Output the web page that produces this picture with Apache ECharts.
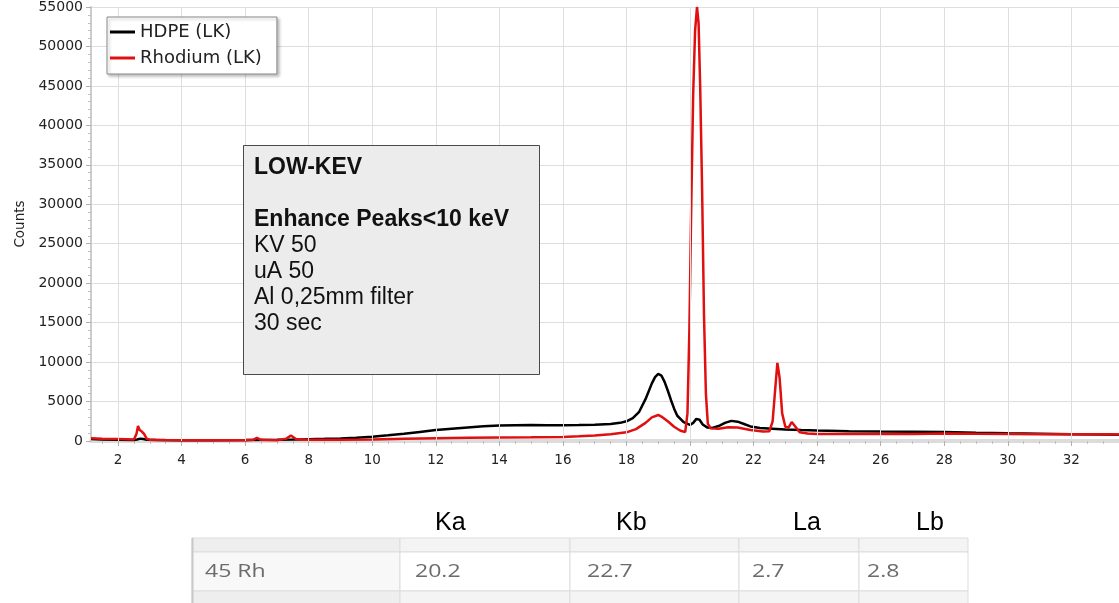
<!DOCTYPE html>
<html>
<head>
<meta charset="utf-8">
<title>LOW-KEV spectrum</title>
<style>
  html, body { margin: 0; padding: 0; background: #fff; }
  #chart { width: 1119px; height: 603px; }
</style>
<script src="https://cdn.jsdelivr.net/npm/echarts@6/dist/echarts.min.js"></script>
</head>
<body>
<div id="chart"></div>
<script>
// HDPE (LK) - energy (keV) and counts
var hdpeKev = [1.15, 1.5, 2.0, 2.5, 2.6, 2.7, 2.8, 2.9, 3.2, 4, 5, 6, 7, 7.5, 8, 8.5, 9, 9.5, 10, 10.5,
    11, 11.5, 12, 12.5, 13, 13.5, 14, 14.5, 15, 15.5, 16, 16.5, 17, 17.5, 17.8, 18.0, 18.2, 18.4, 18.6, 18.8,
    18.9, 19.0, 19.1, 19.2, 19.3, 19.4, 19.5, 19.6, 19.8, 20.0, 20.1, 20.2, 20.3, 20.4, 20.55, 20.7, 20.9, 21.1,
    21.3, 21.5, 21.7, 21.9, 22.2, 22.6, 23, 23.5, 24, 25, 26, 27, 28, 29, 30, 31, 32, 33, 33.5];
var hdpeCounts = [250, 200, 150, 120, 200, 300, 250, 150, 120, 100, 100, 120, 150, 180, 230, 270, 320, 420, 550, 720,
    920, 1150, 1380, 1560, 1720, 1860, 1960, 2000, 2020, 2000, 2000, 2020, 2060, 2150, 2300, 2500, 2900, 3700, 5300, 7300,
    8100, 8500, 8300, 7500, 6400, 5200, 4100, 3200, 2400, 2050, 2300, 2800, 2700, 2100, 1700, 1650, 1900, 2300,
    2550, 2450, 2150, 1850, 1650, 1550, 1450, 1380, 1320, 1250, 1200, 1170, 1130, 1050, 980, 930, 870, 830, 800];

// Rhodium (LK)
var rhKev = [1.15, 1.5, 2.0, 2.5, 2.58, 2.63, 2.68, 2.75, 2.82, 2.9, 3.0, 3.5, 4, 5, 6, 6.25, 6.37, 6.5, 7, 7.3,
    7.44, 7.6, 8, 9, 10, 11, 12, 13, 14, 15, 16, 16.5, 17, 17.5, 18.0, 18.3, 18.6, 18.8, 19.0, 19.1,
    19.3, 19.5, 19.7, 19.85, 19.92, 19.98, 20.04, 20.1, 20.16, 20.22, 20.27, 20.32, 20.38, 20.44, 20.5, 20.56, 20.65, 20.9,
    21.2, 21.5, 21.9, 22.3, 22.5, 22.6, 22.68, 22.75, 22.82, 22.9, 23.0, 23.1, 23.2, 23.3, 23.45, 23.7, 24, 25,
    26, 27, 28, 29, 30, 31, 32, 33, 33.5];
var rhCounts = [350, 300, 250, 180, 900, 1900, 1400, 1200, 900, 300, 150, 120, 100, 100, 100, 150, 400, 150, 100, 300,
    700, 250, 150, 170, 200, 280, 350, 400, 450, 480, 520, 600, 700, 850, 1100, 1500, 2300, 3000, 3300, 3100,
    2500, 1800, 1300, 1150, 3500, 14000, 30000, 44000, 52000, 55000, 53000, 45000, 32000, 16000, 6000, 2200, 1600, 1550,
    1750, 1700, 1400, 1200, 1250, 2500, 6500, 9900, 8000, 3500, 1800, 1700, 2400, 1900, 1100, 950, 900, 900,
    900, 900, 950, 920, 900, 870, 850, 850, 830];

var seriesNames = ['HDPE (LK)', 'Rhodium (LK)'];

// keV tick labels of the x axis (axis starts at 1.15, so ticks are given by hand)
var xTicks = [2, 4, 6, 8, 10, 12, 14, 16, 18, 20, 22, 24, 26, 28, 30, 32];

// text of the note box
var infoLines = ['LOW-KEV', '', 'Enhance Peaks<10 keV', 'KV 50', 'uA 50', 'Al 0,25mm filter', '30 sec'];
var infoBold = [true, false, true, false, false, false, false];

// piece of the emission line table under the chart
var tableHead = ['Ka', 'Kb', 'La', 'Lb'];
var tableRow = ['45 Rh', '20.2', '22.7', '2.7', '2.8'];

function pairs(xs, ys) {
    var out = [];
    for (var i = 0; i < xs.length; i++) out.push([xs[i], ys[i]]);
    return out;
}

// minor ticks every 0.5 keV between the labelled ones
var xMinor = [];
for (var t = 1.5; t < 33.5; t += 0.5) {
    if (t % 2 != 0) xMinor.push(t);
}

var chart = echarts.init(document.getElementById('chart'));

// graphic: note box + table
var graphics = [];
graphics.push({
    type: 'rect', z: 100,
    shape: { x: 243.5, y: 145.5, width: 296, height: 229 },
    style: { fill: '#ececec', stroke: '#4a4a4a', lineWidth: 1 }
});
for (var i = 0; i < infoLines.length; i++) {
    if (!infoLines[i]) continue;
    graphics.push({
        type: 'text', z: 101, x: 254, y: 168 + i * 26,
        style: {
            text: infoLines[i], fill: '#111', verticalAlign: 'middle',
            font: (infoBold[i] ? 'bold ' : '') + '23px "Liberation Sans", Arial, sans-serif'
        }
    });
}

var colEdges = [192, 400, 570, 739, 859, 968];
var headX = [435, 616, 793, 916];
var cellX = [205, 415, 587, 752, 867];
for (var c = 0; c < colEdges.length - 1; c++) {
    var w = colEdges[c + 1] - colEdges[c];
    // top band (previous row, cut)
    graphics.push({ type: 'rect', shape: { x: colEdges[c], y: 538, width: w, height: 14 },
        style: { fill: c == 0 ? '#eeeeee' : '#f4f4f4', stroke: '#dddddd', lineWidth: 1 } });
    // 45 Rh row
    graphics.push({ type: 'rect', shape: { x: colEdges[c], y: 552, width: w, height: 39 },
        style: { fill: c == 0 ? '#f8f8f8' : '#ffffff', stroke: '#dddddd', lineWidth: 1 } });
    // next row, cut
    graphics.push({ type: 'rect', shape: { x: colEdges[c], y: 591, width: w, height: 14 },
        style: { fill: c == 0 ? '#eeeeee' : '#f4f4f4', stroke: '#dddddd', lineWidth: 1 } });
    graphics.push({ type: 'text', x: cellX[c], y: 572, scaleX: 1.28,
        style: { text: tableRow[c], fill: '#6c6c6c', verticalAlign: 'middle',
            font: '18px "Open Sans", "Noto Sans", sans-serif' } });
}
graphics.push({ type: 'line', shape: { x1: 192.5, y1: 538, x2: 192.5, y2: 603 },
    style: { stroke: '#c8c8c8', lineWidth: 2 } });
for (var h = 0; h < tableHead.length; h++) {
    graphics.push({ type: 'text', x: headX[h], y: 523,
        style: { text: tableHead[h], fill: '#000', verticalAlign: 'middle',
            font: '25px "Liberation Sans", Arial, sans-serif' } });
}

var option = {
    backgroundColor: '#fff',
    animation: false,
    grid: { left: 91, right: 0, top: 5, bottom: 162 },
    legend: {
        data: seriesNames,
        z: 50,
        orient: 'vertical',
        left: 107, top: 17,
        padding: [6, 15, 7, 3],
        itemGap: 8,
        itemWidth: 25, itemHeight: 3,
        icon: 'rect',
        backgroundColor: '#fff',
        borderColor: '#8a8a8a', borderWidth: 1,
        shadowColor: 'rgba(0,0,0,0.25)', shadowBlur: 3, shadowOffsetX: 2, shadowOffsetY: 2,
        textStyle: { fontFamily: 'DejaVu Sans', fontSize: 18, color: '#222' }
    },
    xAxis: [
        {
            type: 'value', position: 'bottom',
            min: 1.15, max: 33.5,
            axisLine: { show: true, onZero: false, lineStyle: { color: '#dcdcdc', width: 4 } },
            axisTick: { show: true, length: 5, customValues: xTicks, lineStyle: { color: '#b0b0b0' } },
            splitLine: { show: false },
            axisLabel: {
                margin: 12, fontFamily: 'DejaVu Sans', fontSize: 13.5, color: '#222',
                customValues: xTicks
            }
        },
        {
            // only carries the short minor ticks
            type: 'value', position: 'bottom',
            min: 1.15, max: 33.5,
            axisLine: { show: false, onZero: false },
            axisTick: { show: true, length: 3, customValues: xMinor, lineStyle: { color: '#c0c0c0' } },
            splitLine: { show: false },
            axisLabel: { show: false }
        }
    ],
    yAxis: {
        type: 'value',
        min: 0, max: 55000, interval: 5000,
        name: 'Counts', nameLocation: 'middle', nameGap: 64,
        nameTextStyle: { fontFamily: 'DejaVu Sans', fontSize: 13.5, color: '#222' },
        axisLine: { show: true, lineStyle: { color: '#cccccc', width: 2 } },
        axisTick: { show: true, length: 5, lineStyle: { color: '#b0b0b0' } },
        minorTick: { show: true, splitNumber: 5, length: 3, lineStyle: { color: '#c0c0c0' } },
        splitLine: { show: true, lineStyle: { color: '#dedede' } },
        axisLabel: {
            margin: 8, fontFamily: 'DejaVu Sans', fontSize: 14, color: '#222',
            formatter: function (v) { return String(v); }
        }
    },
    series: [
        {
            // vertical grid lines at the keV ticks
            type: 'line', data: [], silent: true, z: 1,
            markLine: {
                silent: true, symbol: 'none', animation: false,
                label: { show: false },
                lineStyle: { color: '#dedede', width: 1, type: 'solid' },
                data: xTicks.map(function (v) { return { xAxis: v }; })
            }
        },
        {
            name: seriesNames[0], type: 'line', showSymbol: false, z: 3,
            data: pairs(hdpeKev, hdpeCounts),
            itemStyle: { color: '#000' },
            lineStyle: { color: '#000', width: 2.5 }
        },
        {
            name: seriesNames[1], type: 'line', showSymbol: false, z: 4,
            data: pairs(rhKev, rhCounts),
            itemStyle: { color: '#e01010' },
            lineStyle: { color: '#e01010', width: 2.5 }
        }
    ],
    graphic: graphics
};

chart.setOption(option);
</script>
</body>
</html>
